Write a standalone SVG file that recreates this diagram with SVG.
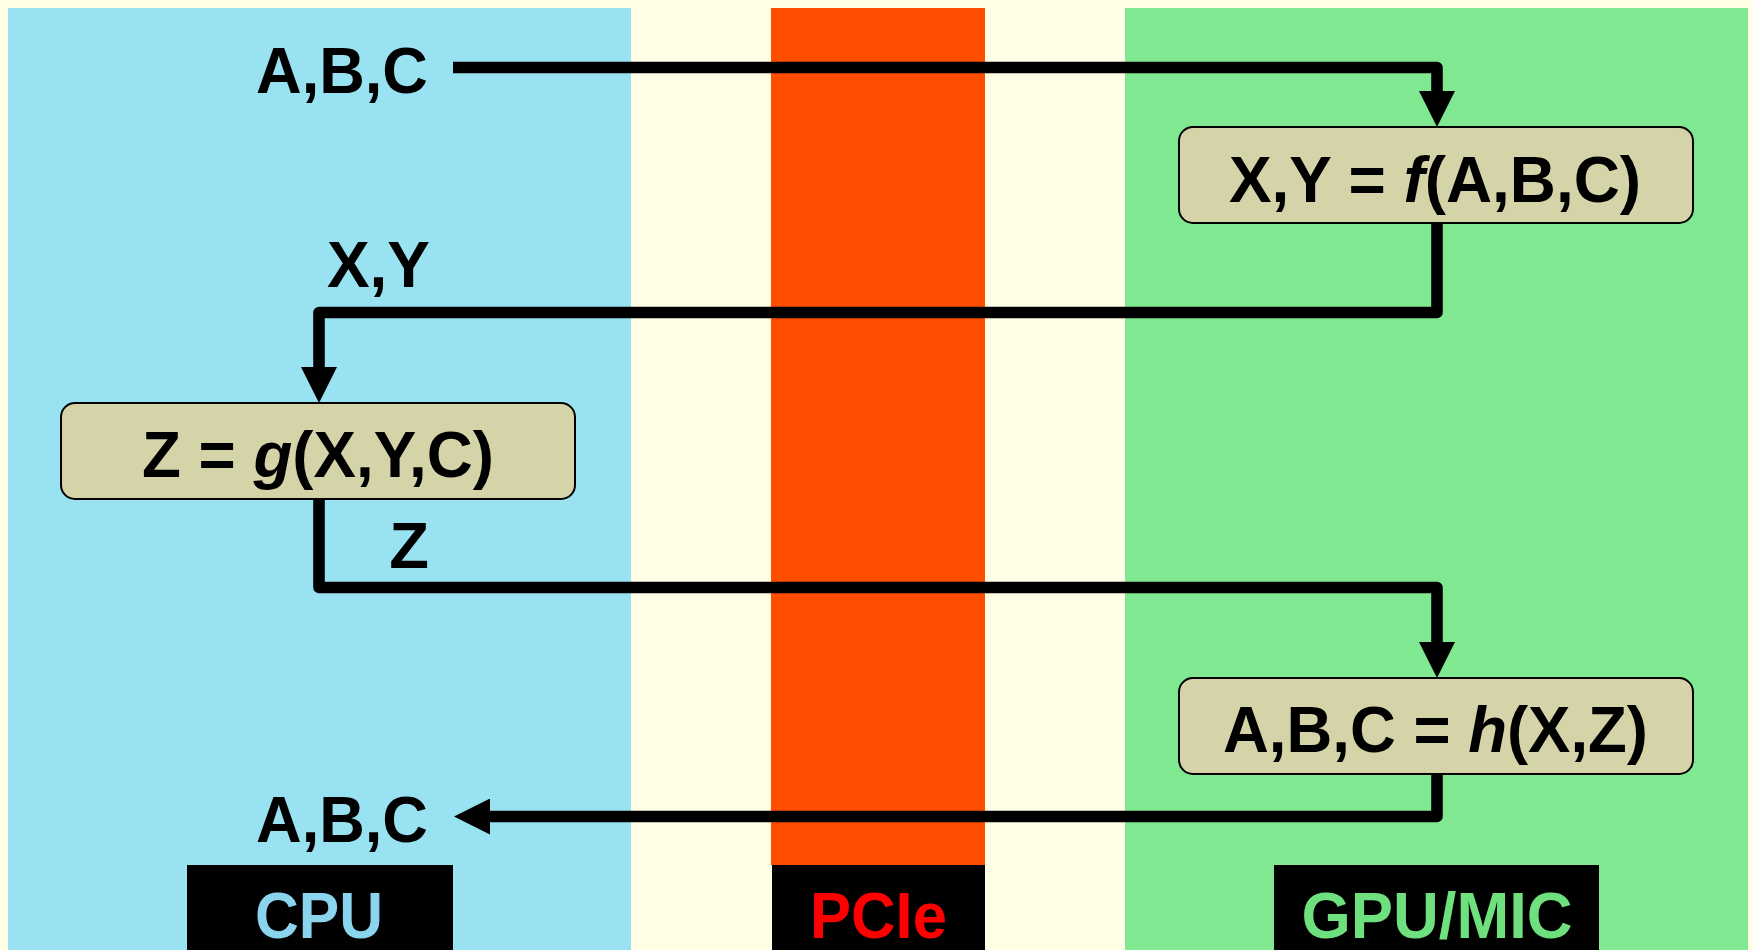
<svg xmlns="http://www.w3.org/2000/svg" width="1753" height="950" viewBox="0 0 1753 950">
<style>
.lbl{font-family:"Liberation Sans",Arial,sans-serif;font-weight:bold;font-size:65px;fill:#000}
.box{fill:#D5D3A8;stroke:#000;stroke-width:2}
.conn{fill:none;stroke:#000;stroke-width:11.6;stroke-linejoin:round;stroke-linecap:butt}
.tag{font-family:"Liberation Sans",Arial,sans-serif;font-weight:bold;font-size:64px;text-anchor:middle}
</style>
<defs>
<marker id="arr" markerUnits="userSpaceOnUse" markerWidth="37" markerHeight="36" refX="1" refY="18" orient="auto" viewBox="0 0 37 36">
<path d="M0,0 L36,18 L0,36 Z" fill="#000"/>
</marker>
</defs>
<rect x="0" y="0" width="1753" height="950" fill="#FFFFE6"/>
<g id="lanes">
<rect x="8" y="8" width="623" height="942" fill="#98E2F2"/>
<rect x="771" y="8" width="214" height="857" fill="#FF4E00"/>
<rect x="1125" y="8" width="623" height="942" fill="#80E890"/>
</g>
<g id="lane-labels">
<rect x="187" y="865" width="266" height="85" fill="#000"/>
<text class="tag" x="319" y="938" fill="#8AD4EE" textLength="128" lengthAdjust="spacingAndGlyphs">CPU</text>
<rect x="772" y="865" width="213" height="85" fill="#000"/>
<text class="tag" x="878.5" y="938" fill="#FF0000" textLength="137" lengthAdjust="spacingAndGlyphs">PCIe</text>
<rect x="1274" y="865" width="325" height="85" fill="#000"/>
<text class="tag" x="1437" y="938" fill="#6EE07E" textLength="271" lengthAdjust="spacingAndGlyphs">GPU/MIC</text>
</g>
<g id="connectors">
<path class="conn" d="M453,67.5 H1437 V92" marker-end="url(#arr)"/>
<path class="conn" d="M1437,223 V312.5 H319 V368" marker-end="url(#arr)"/>
<path class="conn" d="M319,499 V587.5 H1437 V643" marker-end="url(#arr)"/>
<path class="conn" d="M1437,774 V816.5 H489" marker-end="url(#arr)"/>
</g>
<g id="input-label">
<text class="lbl" x="428" y="93" text-anchor="end" textLength="172" lengthAdjust="spacingAndGlyphs">A,B,C</text>
</g>
<g id="node-f">
<rect class="box" x="1179" y="127" width="514" height="96" rx="14" ry="14"/>
<text class="lbl" x="1435" y="201.5" text-anchor="middle" textLength="412" lengthAdjust="spacingAndGlyphs">X,Y = <tspan font-style="italic">f</tspan>(A,B,C)</text>
</g>
<g id="label-xy">
<text class="lbl" x="430" y="286.5" text-anchor="end" textLength="103" lengthAdjust="spacingAndGlyphs">X,Y</text>
</g>
<g id="node-g">
<rect class="box" x="61" y="403" width="514" height="96" rx="14" ry="14"/>
<text class="lbl" x="318" y="476.5" text-anchor="middle" textLength="352" lengthAdjust="spacingAndGlyphs">Z = <tspan font-style="italic">g</tspan>(X,Y,C)</text>
</g>
<g id="label-z">
<text class="lbl" x="429" y="568" text-anchor="end">Z</text>
</g>
<g id="node-h">
<rect class="box" x="1179" y="678" width="514" height="96" rx="14" ry="14"/>
<text class="lbl" x="1435.5" y="751.5" text-anchor="middle" textLength="425" lengthAdjust="spacingAndGlyphs">A,B,C = <tspan font-style="italic">h</tspan>(X,Z)</text>
</g>
<g id="output-label">
<text class="lbl" x="428" y="842" text-anchor="end" textLength="172" lengthAdjust="spacingAndGlyphs">A,B,C</text>
</g>
</svg>
